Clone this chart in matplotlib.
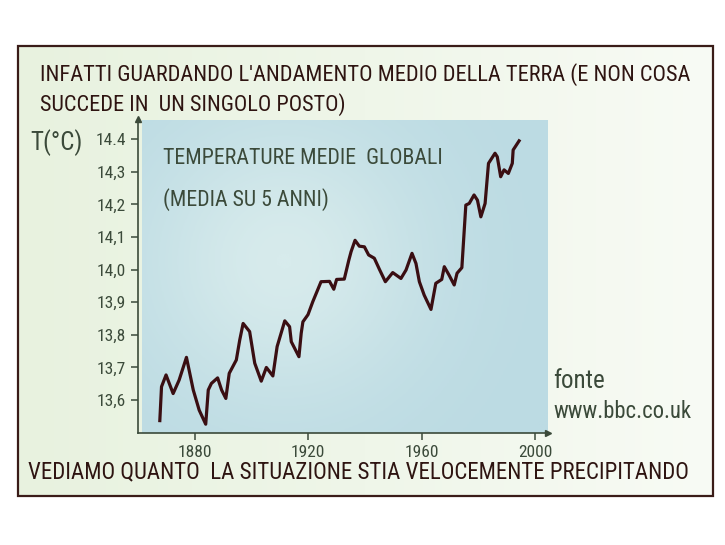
import numpy as np
import matplotlib.pyplot as plt
from matplotlib.patches import Rectangle
from matplotlib.colors import LinearSegmentedColormap

# global mean temperature, 5-year mean
years = [1867.6, 1868.2, 1869.8, 1872.3, 1874.4, 1877.0, 1879.4, 1881.5, 1883.8,
         1884.7, 1885.8, 1888.0, 1889.4, 1890.9, 1892.1, 1894.6, 1895.8, 1897.0,
         1899.3, 1901.1, 1903.4, 1905.2, 1907.5, 1909.0, 1911.7, 1913.4, 1914.0,
         1916.7, 1917.5, 1918.1, 1919.9, 1921.6, 1924.5, 1927.5, 1929.0, 1930.0,
         1932.7, 1934.3, 1935.1, 1936.5, 1938.0, 1939.8, 1941.3, 1943.3, 1945.1,
         1947.2, 1949.8, 1952.7, 1954.5, 1956.6, 1958.0, 1959.2, 1960.9, 1963.3,
         1965.0, 1967.1, 1968.0, 1969.7, 1971.5, 1972.5, 1974.2, 1975.6, 1976.8,
         1978.5, 1979.7, 1980.9, 1982.4, 1983.6, 1985.9, 1986.7, 1987.9, 1989.1,
         1990.6, 1992.0, 1992.3, 1994.4]
temps = [13.537, 13.641, 13.677, 13.620, 13.661, 13.731, 13.631, 13.569, 13.526,
         13.631, 13.651, 13.668, 13.631, 13.605, 13.682, 13.723, 13.784, 13.835,
         13.810, 13.713, 13.658, 13.700, 13.674, 13.764, 13.843, 13.825, 13.779,
         13.733, 13.805, 13.840, 13.862, 13.902, 13.963, 13.964, 13.940, 13.970,
         13.971, 14.029, 14.055, 14.090, 14.072, 14.070, 14.045, 14.035, 14.001,
         13.963, 13.991, 13.973, 13.999, 14.050, 14.019, 13.963, 13.922, 13.878,
         13.958, 13.970, 14.009, 13.983, 13.953, 13.989, 14.006, 14.198, 14.203,
         14.229, 14.213, 14.162, 14.203, 14.326, 14.357, 14.346, 14.285, 14.306,
         14.295, 14.326, 14.367, 14.395]

y_ticks = [13.6, 13.7, 13.8, 13.9, 14.0, 14.1, 14.2, 14.3, 14.4]
y_labels = ["13,6", "13,7", "13,8", "13,9", "14,0", "14,1", "14,2", "14,3", "14.4"]
x_ticks = [1880, 1920, 1960, 2000]

top_text = ["INFATTI GUARDANDO L'ANDAMENTO MEDIO DELLA TERRA (E NON COSA",
            "SUCCEDE IN  UN SINGOLO POSTO)"]
bottom_text = "VEDIAMO QUANTO  LA SITUAZIONE STIA VELOCEMENTE PRECIPITANDO"

ink = '#2e1411'
green_ink = '#3b4a3a'
hand = ['Roboto Condensed', 'Liberation Sans Narrow', 'Roboto', 'DejaVu Sans']

W, H = 725, 545
fig = plt.figure(figsize=(7.25, 5.45), dpi=100)
fig.patch.set_facecolor('white')

# background layer in pixel coordinates
bg = fig.add_axes([0, 0, 1, 1])
panel_cm = LinearSegmentedColormap.from_list('panel', ['#e8f2df', '#eff6e9', '#f8fbf5'])
bg.imshow(np.linspace(0, 1, 256)[None, :], extent=(18, 713, 496, 46),
          cmap=panel_cm, aspect='auto', zorder=0)
bg.add_patch(Rectangle((18, 46), 695, 450, fill=False, ec='#3a1c18', lw=1.6, zorder=1))
bg.set_xlim(0, W)
bg.set_ylim(H, 0)
bg.axis('off')

renderer = fig.canvas.get_renderer()


def fit_text(x0, x1, y, s, color, max_size=18):
    # put text between x0 and x1 (pixels), shrinking it to fit
    t = bg.text(x0, y, s, fontsize=max_size, color=color, family=hand, va='center')
    w = t.get_window_extent(renderer).width
    target = x1 - x0
    if w > target:
        t.set_fontsize(max_size * target / w)
    return t


fit_text(40, 690, 75, top_text[0], ink)
fit_text(40, 345, 105, top_text[1], ink)
fit_text(28, 690, 472, bottom_text, ink)
fit_text(30, 85, 143, "T(°C)", green_ink)
fit_text(553, 606, 381, "fonte", green_ink)
fit_text(553, 690, 412, "www.bbc.co.uk", green_ink)

# chart
ax = fig.add_axes([138 / W, 1 - 433 / H, (548 - 138) / W, (433 - 119) / H])

yy, xx = np.mgrid[0:1:200j, 0:1:200j]
shade = np.exp(-((xx - 0.35) ** 2 / 0.12 + (yy - 0.45) ** 2 / 0.2))
sky_cm = LinearSegmentedColormap.from_list('sky', ['#bcdbe3', '#d7ebec'])
ax.imshow(shade, extent=(0.01, 1.0, 0.0, 0.994), transform=ax.transAxes,
          cmap=sky_cm, aspect='auto', zorder=0)
ax.set_xlim(1859.9, 2004.6)
ax.set_ylim(13.499, 14.462)
ax.set_facecolor('none')

ax.plot(years, temps, color='#3a0e12', lw=2.3, solid_joinstyle='round', zorder=3)

for s in ['top', 'right']:
    ax.spines[s].set_visible(False)
for s in ['left', 'bottom']:
    ax.spines[s].set_color(green_ink)
    ax.spines[s].set_linewidth(1.2)
ax.plot(0, 1, marker='^', ms=4, color=green_ink, transform=ax.transAxes, clip_on=False)
ax.plot(1, 0, marker='>', ms=4, color=green_ink, transform=ax.transAxes, clip_on=False)

ax.set_yticks(y_ticks)
ax.set_yticklabels(y_labels)
ax.set_xticks(x_ticks)
ax.set_xticklabels([str(x) for x in x_ticks])
ax.tick_params(colors=green_ink, labelsize=12.5, length=5, width=1.1, direction='out')
for lab in ax.get_xticklabels() + ax.get_yticklabels():
    lab.set_family(hand)

t1 = ax.text(163, 158, "TEMPERATURE MEDIE  GLOBALI", transform=bg.transData,
             fontsize=18, color=green_ink, family=hand, va='center')
w = t1.get_window_extent(renderer).width
size = min(18, 18 * (443 - 163) / w)
t1.set_fontsize(size)
ax.text(163, 200, "(MEDIA SU 5 ANNI)", transform=bg.transData,
        fontsize=size, color=green_ink, family=hand, va='center')

fig.savefig('out.png', dpi=100)
